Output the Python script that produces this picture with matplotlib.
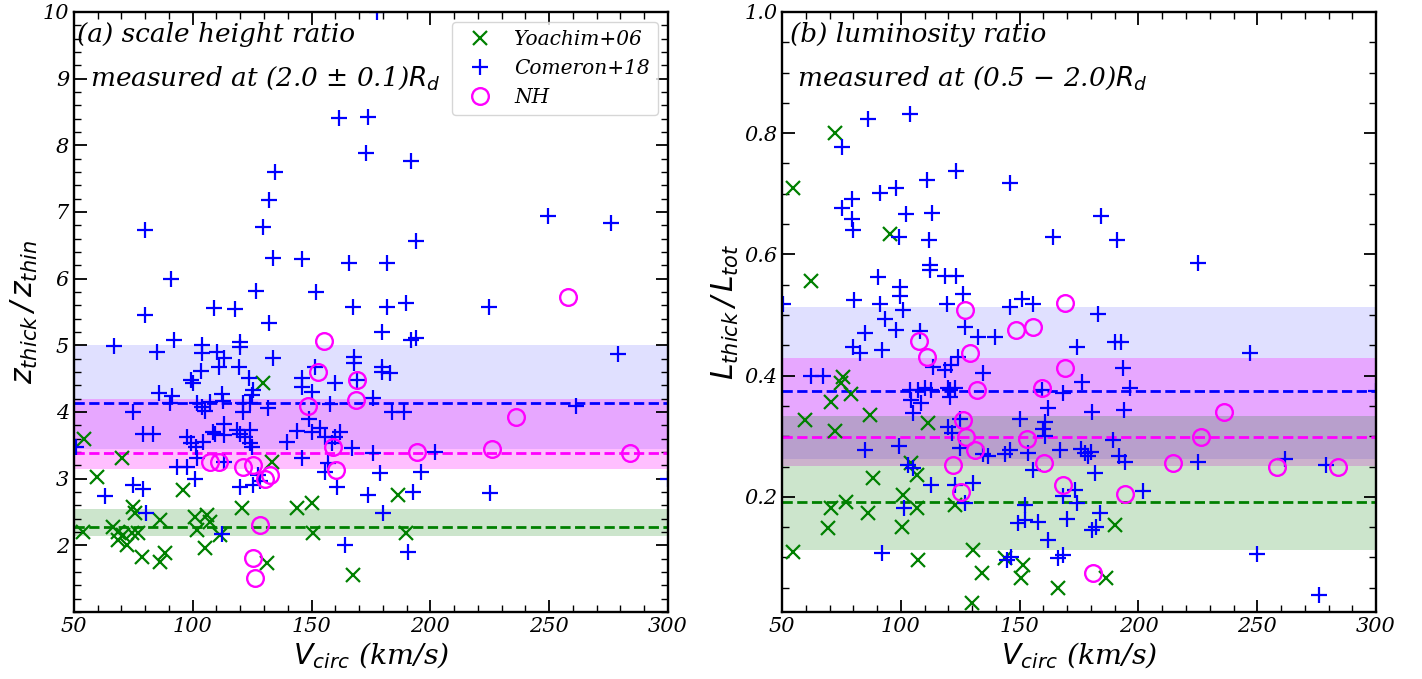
import matplotlib
matplotlib.use('Agg')
from matplotlib import pyplot as plt
from matplotlib.ticker import MultipleLocator, FormatStrFormatter

# ---- panel (a): scale height ratio ----
yoachim_v_a = [54.2, 70.2, 59.7, 95.9, 120.7, 74.8, 75.7, 53.8, 66.4, 68.5,
               70.6, 74.4, 76.9, 68.5, 72.3, 78.6, 86.2, 86.2, 88.3, 100.9,
               101.8, 106.0, 107.2, 105.1, 111.4, 129.6, 133.3, 143.9, 150.2, 150.6,
               186.4, 189.7, 167.4, 131.2]
yoachim_z = [3.60, 3.31, 3.03, 2.83, 2.56, 2.58, 2.49, 2.20, 2.28, 2.20,
             2.16, 2.19, 2.19, 2.08, 2.00, 1.83, 2.38, 1.75, 1.88, 2.43,
             2.23, 2.46, 2.35, 1.96, 2.16, 4.43, 3.25, 2.56, 2.64, 2.19,
             2.76, 2.19, 1.56, 1.74]

comeron_v_a = [79.9, 90.8, 79.9, 108.9, 117.8, 126.6, 132.0, 129.6, 132.0, 134.6,
               133.8, 146.0, 151.8, 161.6, 165.9, 167.5, 173.7, 172.9, 191.8, 249.5,
               276.0, 193.9, 181.7, 181.7, 189.7, 224.7, 177.5, 66.8, 84.9, 92.1,
               103.9, 103.9, 110.2, 113.1, 119.9, 119.9, 111.0, 103.5, 119.4, 123.7,
               99.2, 100.0, 85.8, 91.2, 90.4, 101.8, 103.9, 105.1, 107.2, 112.3,
               112.7, 121.1, 121.1, 124.9, 124.1, 74.8, 79.0, 83.2, 97.6, 99.2,
               101.3, 104.3, 108.5, 109.3, 113.1, 113.1, 118.6, 119.9, 122.0, 124.1,
               124.1, 125.0, 101.8, 93.3, 97.6, 100.9, 119.9, 125.3, 74.8, 79.0,
               63.0, 80.3, 112.3, 50.8, 179.6, 191.8, 193.9, 133.8, 151.4, 167.8,
               167.8, 179.6, 183.0, 179.6, 169.3, 159.8, 146.0, 146.0, 150.2, 157.7,
               175.8, 183.8, 188.9, 131.6, 148.9, 143.9, 150.2, 153.5, 155.6, 161.9,
               159.8, 158.6, 139.6, 166.9, 175.8, 201.9, 146.0, 156.9, 155.6, 178.8,
               196.1, 160.7, 173.7, 192.7, 180.0, 164.0, 190.6, 279.0, 261.3, 225.0,
               300.0, 113.0, 127.5, 128.5, 125.3]
comeron_z = [6.73, 6.00, 5.45, 5.56, 5.54, 5.82, 5.34, 6.78, 7.18, 7.60,
             6.31, 6.29, 5.80, 8.41, 6.23, 5.58, 8.42, 7.89, 7.77, 6.94,
             6.83, 6.57, 6.23, 5.58, 5.64, 5.57, 10.0, 4.99, 4.90, 5.08,
             5.00, 4.89, 4.90, 4.81, 5.05, 4.98, 4.68, 4.62, 4.68, 4.51,
             4.48, 4.43, 4.28, 4.24, 4.13, 4.13, 4.08, 4.01, 4.15, 4.27,
             4.17, 4.13, 4.00, 4.26, 4.13, 4.00, 3.67, 3.67, 3.63, 3.54,
             3.48, 3.55, 3.70, 3.67, 3.82, 3.66, 3.73, 3.67, 3.63, 3.73,
             3.53, 3.47, 3.31, 3.17, 3.17, 3.00, 2.87, 2.90, 2.90, 2.84,
             2.74, 2.49, 2.17, 3.48, 5.20, 5.08, 5.11, 4.81, 4.68, 4.83,
             4.73, 4.68, 4.59, 4.60, 4.48, 4.43, 4.51, 4.38, 4.30, 4.12,
             4.21, 4.00, 4.00, 4.06, 3.90, 3.72, 3.70, 3.76, 3.63, 3.70,
             3.63, 3.53, 3.55, 3.46, 3.38, 3.40, 3.31, 3.24, 3.10, 3.08,
             3.10, 2.88, 2.76, 2.80, 2.49, 2.00, 1.90, 4.87, 4.09, 2.79,
             3.00, 3.25, 3.05, 2.97, 4.33]

nh_v_a = [257.9, 107.2, 111.0, 121.1, 125.3, 125.3, 126.2, 128.5, 155.2, 152.7,
          169.0, 148.5, 168.7, 159.0, 194.3, 160.3, 132.5, 130.4, 236.0, 226.0,
          284.0]
nh_z = [5.73, 3.25, 3.25, 3.17, 3.20, 1.81, 1.51, 2.30, 5.07, 4.60,
        4.48, 4.09, 4.18, 3.48, 3.40, 3.13, 3.05, 3.00, 3.93, 3.44,
        3.38]

# mean lines and bands: [low, mean, high]
band_yoachim_a = [2.14, 2.27, 2.55]
band_comeron_a = [3.45, 4.14, 5.00]
band_nh_a = [3.14, 3.39, 4.19]

# ---- panel (b): luminosity ratio ----
yoachim_v_b = [72.3, 54.6, 95.5, 62.2, 75.7, 74.8, 79.0, 70.6, 59.7, 87.1,
               111.4, 72.3, 88.3, 104.3, 106.8, 101.0, 77.0, 70.6, 86.2, 106.8,
               122.8, 69.4, 100.5, 54.6, 107.2, 130.4, 134.2, 130.0, 143.9, 151.4,
               150.6, 166.0, 190.2, 186.4]
yoachim_l = [0.800, 0.709, 0.634, 0.556, 0.397, 0.388, 0.370, 0.356, 0.326, 0.335,
             0.322, 0.308, 0.231, 0.256, 0.236, 0.203, 0.191, 0.182, 0.173, 0.181,
             0.187, 0.148, 0.151, 0.109, 0.096, 0.112, 0.074, 0.025, 0.099, 0.087,
             0.066, 0.049, 0.153, 0.066]

comeron_v_b = [75.2, 86.2, 103.9, 123.2, 111.0, 98.0, 91.2, 79.4, 75.2, 79.4,
               79.9, 102.2, 113.1, 99.2, 111.9, 146.0, 164.0, 112.3, 112.3, 118.6,
               123.2, 90.4, 99.7, 99.7, 126.2, 50.4, 80.3, 91.2, 100.9, 119.4,
               146.0, 151.0, 155.6, 184.3, 191.0, 225.1, 183.0, 93.3, 98.0, 84.9,
               108.1, 127.0, 79.9, 82.8, 92.1, 124.1, 113.6, 118.6, 121.0, 62.2,
               67.3, 103.9, 107.2, 110.2, 112.7, 104.3, 108.5, 119.9, 120.7, 120.7,
               122.8, 105.1, 119.9, 121.5, 124.9, 84.9, 99.2, 103.0, 112.7, 122.8,
               101.3, 92.1, 127.0, 124.9, 105.1, 134.5, 136.5, 144.0, 146.0, 150.2,
               153.5, 155.6, 146.5, 144.5, 132.5, 139.6, 134.6, 174.2, 190.2, 192.7,
               176.3, 193.5, 196.5, 159.4, 168.3, 162.0, 180.5, 194.0, 160.7, 159.8,
               160.7, 189.3, 167.0, 175.8, 177.5, 180.0, 178.8, 191.8, 194.3, 181.7,
               130.4, 168.3, 173.3, 174.2, 202.0, 152.3, 149.3, 152.3, 157.7, 170.0,
               183.8, 180.5, 182.1, 162.0, 166.2, 168.3, 247.0, 225.0, 261.7, 279.0,
               249.9, 276.0, 300.0]
comeron_l = [0.777, 0.824, 0.832, 0.737, 0.722, 0.710, 0.701, 0.691, 0.677, 0.659,
             0.640, 0.667, 0.668, 0.628, 0.623, 0.717, 0.628, 0.582, 0.574, 0.564,
             0.564, 0.562, 0.546, 0.532, 0.535, 0.518, 0.524, 0.518, 0.508, 0.518,
             0.513, 0.527, 0.518, 0.663, 0.624, 0.585, 0.501, 0.494, 0.475, 0.470,
             0.473, 0.481, 0.447, 0.438, 0.443, 0.430, 0.414, 0.409, 0.417, 0.400,
             0.400, 0.377, 0.377, 0.380, 0.377, 0.360, 0.355, 0.380, 0.376, 0.364,
             0.379, 0.338, 0.316, 0.306, 0.280, 0.277, 0.284, 0.252, 0.219, 0.219,
             0.181, 0.107, 0.190, 0.329, 0.247, 0.270, 0.268, 0.270, 0.278, 0.329,
             0.272, 0.244, 0.101, 0.095, 0.463, 0.463, 0.404, 0.448, 0.455, 0.455,
             0.390, 0.412, 0.379, 0.376, 0.371, 0.346, 0.340, 0.343, 0.323, 0.312,
             0.300, 0.293, 0.277, 0.279, 0.272, 0.274, 0.268, 0.267, 0.257, 0.239,
             0.223, 0.201, 0.212, 0.190, 0.209, 0.187, 0.157, 0.162, 0.159, 0.163,
             0.173, 0.145, 0.150, 0.128, 0.099, 0.104, 0.438, 0.257, 0.262, 0.253,
             0.105, 0.038, 0.375]

nh_v_b = [127.0, 107.7, 111.0, 129.0, 132.0, 148.5, 155.6, 169.1, 169.1, 159.4,
          126.2, 127.4, 131.2, 122.0, 125.3, 153.1, 160.3, 168.3, 194.4, 180.9,
          236.0, 226.3, 214.6, 258.3, 284.0]
nh_l = [0.508, 0.457, 0.430, 0.437, 0.377, 0.476, 0.480, 0.520, 0.412, 0.379,
        0.326, 0.298, 0.277, 0.253, 0.208, 0.295, 0.256, 0.219, 0.204, 0.074,
        0.340, 0.299, 0.255, 0.249, 0.249]

band_yoachim_b = [0.112, 0.191, 0.334]
band_comeron_b = [0.263, 0.375, 0.513]
band_nh_b = [0.251, 0.299, 0.429]

plt.rcParams['font.family'] = 'serif'
plt.rcParams['font.style'] = 'italic'
plt.rcParams['mathtext.fontset'] = 'dejavusans'

fig = plt.figure(figsize=(14.22, 6.79), dpi=100)
ax1 = fig.add_axes([0.052, 0.0987, 0.4177, 0.8837])
ax2 = fig.add_axes([0.550, 0.0987, 0.4177, 0.8837])


def draw_panel(ax, yv, yy, cv, cy, nv, ny, byo, bco, bnh):
    ax.axhspan(bco[0], bco[2], color='blue', alpha=0.12, lw=0)
    ax.axhspan(bnh[0], bnh[2], color='magenta', alpha=0.25, lw=0)
    ax.axhspan(byo[0], byo[2], color='green', alpha=0.2, lw=0)
    ax.axhline(bco[1], color='blue', ls='--', lw=2)
    ax.axhline(bnh[1], color='magenta', ls='--', lw=2)
    ax.axhline(byo[1], color='green', ls='--', lw=2)
    ax.plot(yv, yy, 'x', color='green', ms=10, mew=1.6, ls='none', label='Yoachim+06')
    ax.plot(cv, cy, '+', color='blue', ms=11, mew=1.6, ls='none', label='Comeron+18')
    ax.plot(nv, ny, 'o', mfc='none', mec='magenta', ms=12, mew=1.7, ls='none', label='NH')
    ax.set_xlim(50, 300)
    ax.xaxis.set_major_locator(MultipleLocator(50))
    ax.xaxis.set_minor_locator(MultipleLocator(10))
    ax.tick_params(which='both', direction='in', top=True, right=True, labelsize=15)
    ax.tick_params(which='major', length=9, width=1.3)
    ax.tick_params(which='minor', length=5, width=1.0)
    for sp in ax.spines.values():
        sp.set_linewidth(1.7)
    ax.set_xlabel('$V_{circ}$ (km/s)', fontsize=20.5, labelpad=3)


draw_panel(ax1, yoachim_v_a, yoachim_z, comeron_v_a, comeron_z, nh_v_a, nh_z,
           band_yoachim_a, band_comeron_a, band_nh_a)
ax1.set_ylim(1.0, 10)
ax1.set_yticks(range(2, 11))
ax1.yaxis.set_minor_locator(MultipleLocator(0.2))
ax1.set_ylabel('$z_{thick}\\,/\\,z_{thin}$', fontsize=21.5, labelpad=2)
ax1.text(0.005, 0.962, '(a) scale height ratio', transform=ax1.transAxes,
         fontsize=19, va='center', ha='left')
ax1.text(0.027, 0.89, 'measured at (2.0 $\\pm$ 0.1)$R_d$', transform=ax1.transAxes,
         fontsize=19, va='center', ha='left')
ax1.legend(loc='upper right', fontsize=14.5, framealpha=0.8, handletextpad=0.7)

draw_panel(ax2, yoachim_v_b, yoachim_l, comeron_v_b, comeron_l, nh_v_b, nh_l,
           band_yoachim_b, band_comeron_b, band_nh_b)
ax2.set_ylim(0.01, 1.0)
ax2.yaxis.set_major_locator(MultipleLocator(0.2))
ax2.yaxis.set_minor_locator(MultipleLocator(0.05))
ax2.yaxis.set_major_formatter(FormatStrFormatter('%.1f'))
ax2.set_ylabel('$L_{thick}\\,/\\,L_{tot}$', fontsize=21.5, labelpad=2)
ax2.text(0.013, 0.962, '(b) luminosity ratio', transform=ax2.transAxes,
         fontsize=19, va='center', ha='left')
ax2.text(0.025, 0.89, 'measured at (0.5 $-$ 2.0)$R_d$', transform=ax2.transAxes,
         fontsize=19, va='center', ha='left')

fig.savefig('out.png', dpi=100)
